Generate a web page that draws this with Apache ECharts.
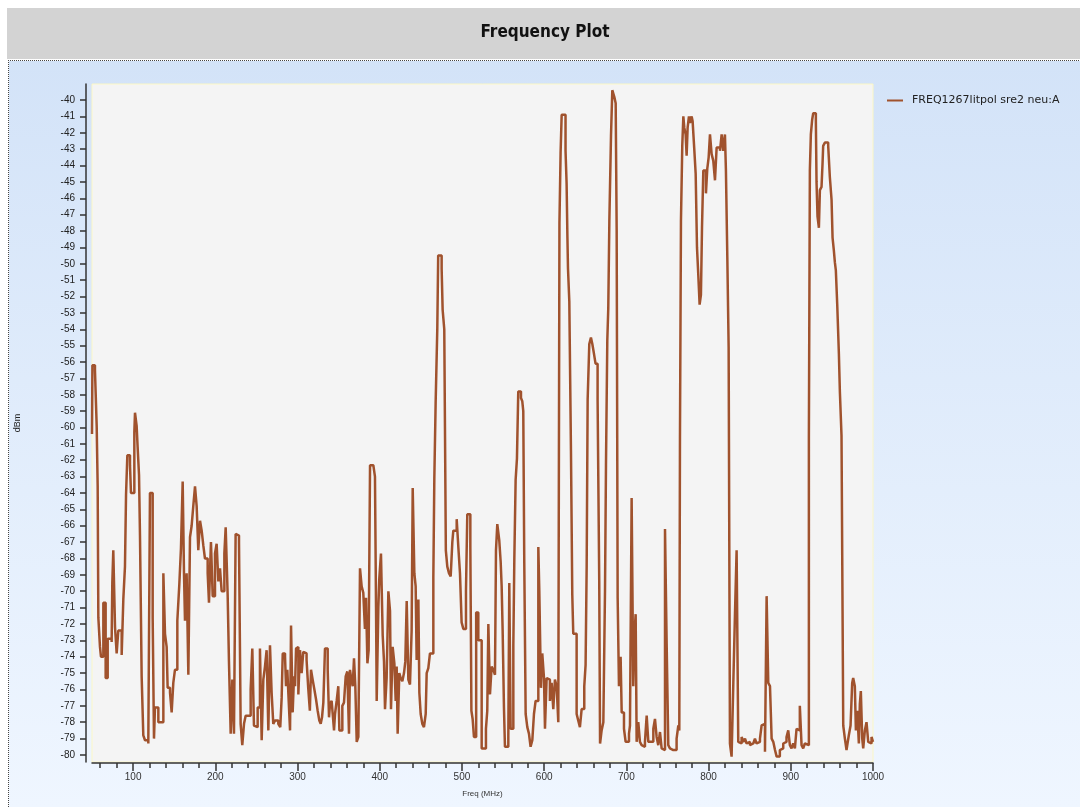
<!DOCTYPE html>
<html><head><meta charset="utf-8">
<script src="https://cdn.jsdelivr.net/npm/echarts@6.0.0/dist/echarts.min.js"></script>
<style>html,body{margin:0;padding:0;background:#fff;}#c{width:1080px;height:807px;}</style>
</head><body><div id="c"></div>
<script>
const seriesName = 'FREQ1267litpol sre2 neu:A';
const freqMHz = [
50,50.5,53.6,55.7,56.9,57.7,59.7,60.9,63.8,66.6,69.1,73.9,74.7,75.9,78.0,80.0,82.0,86.1,88.1,90.1,
91.4,93.0,96.2,97.4,101.5,102.3,104.3,105.5,107.2,108.4,110.4,112.4,114.5,118.5,120.5,123.8,125.4,126.6,130.7,136.8,
138.8,140.8,142.0,144.9,146.9,148.9,150.9,153.8,156.2,158.2,160.3,161.9,163.1,165.1,167.2,169.2,171.2,173.2,175.3,177.3,
179.3,181.4,183.4,185.4,187.4,190.7,192.3,194.7,196.8,199.6,201.6,203.7,205.7,207.7,211.0,212.6,215.0,216.6,218.7,220.7,
222.7,224.7,226.8,228.8,230.8,232.8,234.9,236.9,243.0,245.0,247.0,249.1,251.5,254.3,256.4,258.4,260.4,262.4,264.5,266.5,
268.5,270.5,272.6,276.6,
279.0,280.7,282.0,284.8,286.0,287.6,288.8,290.9,292.1,294.1,295.7,297.0,298.2,299.8,301.0,303.0,305.0,307.0,309.0,311.0,
313.0,315.0,316.4,318.4,320.5,322.5,324.5,326.5,328.2,329.8,331.4,333.4,336.7,338.3,339.5,341.5,342.8,344.4,345.6,347.6,
349.6,350.9,354.5,356.5,358.6,360.6,362.6,363.8,365.5,367.1,368.7,370.3,372.0,374.0,376.0,378.0,380.0,382.0,383.3,385.0,
386.5,388.2,392.2,394.2,395.5,396.3,398.3,399.5,401.5,403.6,405.2,406.4,408.4,410.5,412.5,413.7,415.7,417.8,419.4,420.6,
421.8,423.8,425.5,427.5,429.5,431.1,432.8,434.8,436.8,438.8,440.1,442.1,443.7,444.9,447.0,448.2,449.8,451.8,453.8,455.9,
457.1,459.1,461.1,465.2,466.4,468.0,470.0,471.1,475.3,476.5,477.5,478.5,480.4,482.2,484.2,486.3,488.3,489.5,493.6,495.6,
497.6,
499.6,501.7,504.9,506.5,510.2,511.5,513.0,514.6,517.3,519.9,524.0,529.2,530.8,532.1,534.1,536.1,538.1,540.2,541.4,543.0,
545.4,547.1,548.3,549.5,551.1,552.3,556.4,557.6,559.2,562.5,563.7,565.3,566.9,568.5,571.8,573.4,574.6,575.8,577.5,579.5,
581.5,583.5,585.6,587.6,589.6,592.9,594.1,596.1,597.7,599.8,601.0,603.0,605.0,607.0,609.1,611.1,613.1,615.2,617.2,618.6,
620.0,621.3,626.0,627.3,628.3,629.0,630.6,632.6,634.2,635.4,639.5,641.5,643.5,645.6,648.8,650.4,651.7,652.9,654.9,656.9,
658.6,660.6,662.5,665.0,667.0,668.0,669.9,672.0,674.0,675.2,676.8,678.0,679.3,681.3,682.9,685.3,687.0,688.2,689.4,691.0,
693.0,694.3,697.1,699.1,703.2,704.4,706.4,708.4,709.7,711.3,712.5,714.5,716.5,718.6,720.6,722.6,724.7,726.7,732.8,734.8,
736.8,738.8,740.9,742.9,744.9,747.0,749.0,751.0,753.0,755.1,757.1,759.1,761.1,763.2,764.4,765.2,766.4,768.0,769.3,770.5,
772.1,773.3,774.5,776.1,777.4,779.4,780.6,782.6,784.3,785.9,787.5,789.1,790.7,792.0,793.6,796.8,798.4,800.1,801.7,803.7,
805.7,807.8,809.8,813.9,815.9,817.9,819.9,821.1,822.8,824.4,826.0,828.0,830.1,832.1,834.1,836.1,838.2,840.2,842.2,844.3,
846.3,848.3,850.3,852.4,854.4,856.4,858.4,860.5,862.5,864.5,866.6,868.6,870.6,872.6,874.7,876.7,878.7,880.8,882.8,886.7,
888.8,890.8,892.8,894.8,896.9,898.9,900.9,902.9,905.0,907.0,909.0,911.0,913.1,915.1,917.1,919.2,922.0,923.2,924.4,926.0,
927.3,930.5,931.3,932.5,934.2,935.4,937.4,938.6,939.4,941.5,945.5,947.5,949.6,950.8,952.4,953.6,954.8,956.5,958.5,959.7,
961.7,963.8,965.8,967.8,969.0,970.6,972.7,974.7,975.9,977.9,979.2,980.8,982.8,984.0,985.2,986.9,988.1,990.1,992.1,994.2,
996.2,998.2,1000.0
];
const levelDbm = [
-60.4,-56.2,-56.5,-59.9,-63.6,-71.6,-73.4,-74.0,-70.7,-75.3,-72.9,-73.1,-69.5,-67.5,-72.2,-73.8,-72.4,-73.9,-70.5,-68.5,
-64.1,-61.7,-62.3,-64.0,-60.3,-59.1,-59.9,-61.2,-62.9,-66.7,-75.2,-78.8,-79.1,-79.3,-64.0,-71.6,-79.0,-77.1,-78.0,-68.9,
-72.6,-73.4,-75.9,-76.2,-77.4,-75.6,-74.8,-71.8,-69.6,-67.4,-63.3,-68.9,-71.8,-68.9,-75.1,-66.7,-66.0,-64.8,-63.6,-64.8,
-67.5,-65.7,-66.3,-67.2,-68.0,-68.9,-70.7,-67.0,-70.3,-67.7,-67.1,-69.4,-68.6,-70.0,-67.7,-66.1,-70.2,-74.3,-78.7,-75.4,
-78.7,-66.5,-66.6,-67.0,-78.1,-79.4,-78.1,-77.6,-76.0,-73.5,-78.2,-78.3,-77.1,-73.5,-79.1,-75.4,-74.6,-73.6,-78.5,-73.3,
-76.2,-78.1,-77.9,-78.1,
-78.3,-76.5,-73.8,-74.0,-75.8,-74.8,-76.2,-78.5,-72.1,-77.4,-75.2,-75.8,-73.5,-73.4,-76.3,-73.6,-75.0,-73.7,-73.8,-74.2,
-75.9,-77.3,-74.8,-75.4,-76.0,-76.6,-77.3,-77.9,-78.1,-77.7,-76.8,-73.5,-74.8,-77.7,-76.9,-76.7,-77.5,-78.5,-77.5,-76.7,
-75.8,-78.5,-77.0,-76.8,-75.2,-74.9,-78.7,-74.8,-75.4,-75.8,-74.1,-75.8,-79.2,-78.9,-68.6,-69.7,-70.1,-72.3,-70.4,-74.4,
-73.6,-62.3,-62.4,-63.0,-71.0,-76.7,-71.0,-69.2,-67.7,-72.7,-74.3,-77.2,-75.3,-70.0,-71.2,-77.2,-73.4,-74.4,-76.7,-74.6,
-78.7,-75.0,-75.3,-75.5,-75.0,-74.3,-70.6,-75.4,-75.7,-72.4,-63.7,-68.9,-69.7,-74.2,-70.5,-76.2,-77.5,-78.1,-78.3,-77.5,
-75.0,-74.7,-73.8,-69.2,-63.1,-58.5,-54.0,-49.5,-50.3,-52.8,-53.4,-54.0,-67.5,-68.5,-68.9,-69.1,-67.0,-66.3,-65.6,-67.3,
-68.9,
-71.9,-72.3,-70.0,-65.3,-67.2,-77.3,-77.8,-78.9,-71.3,-73.0,-79.6,-78.4,-77.3,-72.0,-76.3,-74.6,-74.8,-75.1,-67.5,-65.9,
-66.9,-68.2,-69.7,-72.4,-77.1,-79.5,-78.9,-69.5,-78.4,-73.3,-68.1,-63.2,-61.9,-57.8,-58.2,-58.4,-59.0,-68.2,-77.5,-78.3,
-78.7,-79.5,-79.1,-77.5,-76.7,-67.3,-70.0,-75.9,-73.8,-75.3,-78.4,-75.3,-75.4,-76.7,-75.6,-77.2,-75.4,-75.8,-78.0,-47.5,
-43.2,-40.9,-43.1,-45.1,-48.4,-50.3,-52.3,-61.4,-70.2,-72.6,-77.5,-77.9,-78.3,-77.2,-75.8,-74.5,-68.5,-58.3,-54.9,-54.5,
-54.9,-55.5,-56.1,-58.3,-69.4,-79.3,-78.5,-78.0,-70.0,-62.3,-54.7,-52.7,-47.4,-42.2,-39.4,-39.8,-40.2,-48.0,-70.4,-75.8,
-74.0,-77.4,-78.4,-79.2,-78.7,-78.2,-64.3,-75.8,-72.7,-71.4,-79.2,-78.0,-79.2,-79.4,-79.5,-79.2,-77.6,-79.2,-78.4,-77.8,
-78.9,-79.4,-78.6,-79.6,-79.7,-66.2,-73.2,-79.4,-79.6,-79.7,-79.6,-79.7,-79.0,-78.2,-78.5,-60.5,-47.4,-42.8,-41.0,-41.7,
-42.1,-43.4,-41.7,-41.0,-41.4,-41.0,-41.3,-43.0,-44.5,-49.0,-50.7,-52.5,-51.9,-47.8,-44.3,-45.7,-44.2,-43.5,-42.1,-43.3,
-43.7,-44.9,-42.9,-43.1,-42.1,-43.1,-42.1,-44.3,-49.6,-55.1,-79.3,-80.1,-75.6,-71.4,-67.5,-79.2,-79.3,-78.9,-79.2,-79.0,
-79.3,-79.2,-79.4,-79.3,-79.2,-79.0,-79.3,-79.2,-79.0,-78.2,-78.1,-79.8,-70.3,-75.6,-75.8,-79.0,-79.2,-79.7,-80.1,-79.7,
-79.6,-79.3,-79.2,-78.9,-78.5,-79.4,-79.6,-79.3,-79.6,-78.4,-78.5,-77.0,-79.4,-79.6,-79.3,-79.4,-60.5,-44.3,-42.1,-41.2,
-40.8,-41.3,-45.0,-47.1,-47.8,-45.5,-45.3,-43.9,-42.8,-42.6,-42.8,-44.7,-46.1,-48.4,-49.2,-49.9,-50.4,-52.5,-55.5,-57.8,
-60.5,-78.2,-79.0,-79.7,-79.3,-78.8,-78.2,-75.6,-75.3,-75.8,-78.5,-77.3,-79.3,-76.9,-76.1,-79.0,-79.6,-78.5,-78.0,-79.2,
-79.3,-78.9,-79.2
];
const yTickValues = [-80,-79,-78,-77,-76,-75,-74,-73,-72,-71,-70,-69,-68,-67,-66,-65,-64,-63,-62,-61,-60,-59,-58,-57,-56,-55,-54,-53,-52,-51,-50,-49,-48,-47,-46,-45,-44,-43,-42,-41,-40];
const xMajorTicks = [100,200,300,400,500,600,700,800,900,1000];
const xMinorTicks = [60,80,100,120,140,160,180,200,220,240,260,280,300,320,340,360,380,400,420,440,460,480,500,520,540,560,580,600,620,640,660,680,700,720,740,760,780,800,820,840,860,880,900,920,940,960,980,1000];

const data = freqMHz.map((f, i) => [f, levelDbm[i]]);
const chart = echarts.init(document.getElementById('c'), null, {renderer: 'canvas'});
const axisColor = '#333333';
chart.setOption({
  backgroundColor: '#ffffff',
  animation: false,
  graphic: [
    {type: 'rect', z: -20, shape: {x: 7, y: 8, width: 1073, height: 51}, style: {fill: '#d3d3d3'}},
    {type: 'rect', z: -20, shape: {x: 9, y: 61, width: 1071, height: 746},
      style: {fill: new echarts.graphic.LinearGradient(0, 0, 0, 1, [{offset: 0, color: '#d3e3f8'}, {offset: 1, color: '#eff6ff'}])}},
    {type: 'line', z: -10, shape: {x1: 8, y1: 60.5, x2: 1080, y2: 60.5}, style: {stroke: '#444', lineWidth: 1, lineDash: [1, 1]}},
    {type: 'line', z: -10, shape: {x1: 8.5, y1: 60, x2: 8.5, y2: 807}, style: {stroke: '#444', lineWidth: 1, lineDash: [1, 1]}}
  ],
  title: {
    text: 'Frequency Plot', left: 545, top: 24, textAlign: 'center', padding: 0,
    textStyle: {fontSize: 17, fontWeight: 'bold', color: '#111', fontFamily: '"DejaVu Sans Condensed", "DejaVu Sans", sans-serif'}
  },
  legend: {
    left: 887, top: 95, padding: 0, icon: 'rect', itemWidth: 16, itemHeight: 2,
    data: [seriesName],
    textStyle: {fontSize: 11, color: '#222', fontFamily: '"DejaVu Sans", sans-serif', padding: [0, 0, 0, 4]}
  },
  grid: {left: 92, top: 84, right: 207, bottom: 45, show: true, backgroundColor: '#f4f4f4', borderColor: '#fbf7c6', borderWidth: 1},
  xAxis: [
    {
      type: 'value', min: 50, max: 1000, position: 'bottom', offset: 1,
      axisLine: {show: true, lineStyle: {color: axisColor, width: 1.5}},
      axisTick: {show: true, customValues: xMajorTicks, length: 8, lineStyle: {color: axisColor, width: 1.5}},
      axisLabel: {customValues: xMajorTicks, formatter: v => String(v), margin: 9, fontSize: 10, color: '#333', fontFamily: '"Liberation Sans", Arial, sans-serif'},
      splitLine: {show: false},
      name: 'Freq (MHz)', nameLocation: 'middle', nameGap: 27,
      nameTextStyle: {fontSize: 8, color: '#333', fontFamily: '"Liberation Sans", Arial, sans-serif'}
    },
    {
      type: 'value', min: 50, max: 1000, position: 'bottom', offset: 1,
      axisLine: {show: false},
      axisTick: {show: true, customValues: xMinorTicks, length: 5, lineStyle: {color: axisColor, width: 1.5}},
      axisLabel: {show: false},
      splitLine: {show: false}
    }
  ],
  yAxis: {
    type: 'value', min: -80.43, max: -39.02, offset: 6,
    axisLine: {show: true, lineStyle: {color: axisColor, width: 1.5}},
    axisTick: {show: true, customValues: yTickValues, length: 6, lineStyle: {color: axisColor, width: 1.5}},
    axisLabel: {customValues: yTickValues, formatter: v => String(v), margin: 11, fontSize: 10, color: '#222', fontFamily: '"Liberation Sans", Arial, sans-serif'},
    splitLine: {show: false},
    name: 'dBm', nameLocation: 'middle', nameGap: 64, nameRotate: 90,
    nameTextStyle: {fontSize: 9, color: '#222', fontFamily: '"Liberation Sans", Arial, sans-serif'}
  },
  series: [{
    type: 'line', name: seriesName, data: data, step: 'end',
    showSymbol: false, symbol: 'none', xAxisIndex: 0, yAxisIndex: 0,
    lineStyle: {color: '#a0522d', width: 2.5},
    itemStyle: {color: '#a0522d'}
  }]
});
</script>
</body></html>
